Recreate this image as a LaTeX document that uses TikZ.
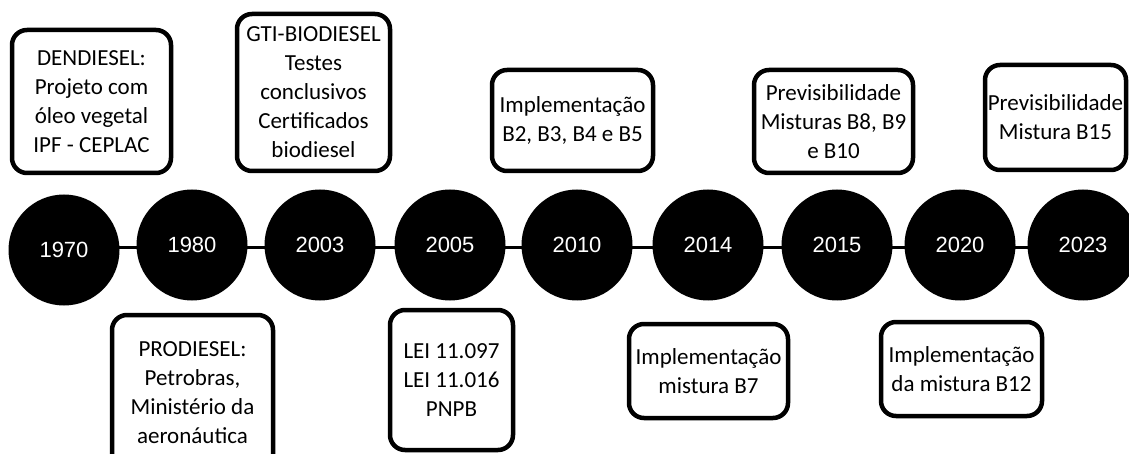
\documentclass[tikz,border=0pt]{standalone}
\usepackage{fontspec}
\setmainfont{Carlito}
\newfontfamily\anofont{Liberation Sans}
\usetikzlibrary{backgrounds}

\begin{document}
\begin{tikzpicture}[x=1pt, y=-1pt,
            ano/.style = {circle, fill=black, minimum size=111pt, inner sep=0pt,
                          text=white, font=\anofont\fontsize{22}{26}\selectfont},
            evento/.style = {draw, line width=4.5pt, rounded corners=15pt, align=center,
                             inner sep=0pt, font=\fontsize{23}{29}\selectfont},
            ]
            \useasboundingbox (0,0) rectangle (1129,454);

            % anos
            \node[ano] (a1970) at (64,250)   {1970};
            \node[ano] (a1980) at (192,245)  {1980};
            \node[ano] (a2003) at (320,245)  {2003};
            \node[ano] (a2005) at (450,245)  {2005};
            \node[ano] (a2010) at (577,245)  {2010};
            \node[ano] (a2014) at (708,245)  {2014};
            \node[ano] (a2015) at (837,245)  {2015};
            \node[ano] (a2020) at (960,245)  {2020};
            \node[ano] (a2023) at (1083,245) {2023};

            \begin{scope}[on background layer]
            \coordinate (linha) at (0,248);
            \foreach \a/\b in {1970/1980, 1980/2003, 2003/2005, 2005/2010,
                               2010/2014, 2014/2015, 2015/2020, 2020/2023}
                \draw[line width=3pt] (a\a |- linha) -- (a\b |- linha);
            \end{scope}

            % eventos acima
            \node[evento, minimum width=159pt, minimum height=143pt] (dendiesel) at (91.5,101.5)
                {DENDIESEL:\\Projeto com\\óleo vegetal\\IPF - CEPLAC};
            \node[evento, minimum width=153pt, minimum height=157pt] (gti) at (313.5,92.5)
                {GTI-BIODIESEL\\Testes\\conclusivos\\Certificados\\biodiesel};
            \node[evento, minimum width=161pt, minimum height=101pt] (impB5) at (572.5,120.5)
                {Implementação\\B2, B3, B4 e B5};
            \node[evento, minimum width=159pt, minimum height=103pt] (prevB10) at (833.5,121.5)
                {Previsibilidade\\Misturas B8, B9\\e B10};
            \node[evento, minimum width=141pt, minimum height=105pt] (prevB15) at (1055.5,117.5)
                {Previsibilidade\\Mistura B15};

            % eventos abaixo
            \node[evento, minimum width=161pt, minimum height=156pt] (prodiesel) at (192.5,393)
                {PRODIESEL:\\Petrobras,\\Ministério da\\aeronáutica};
            \node[evento, minimum width=123pt, minimum height=140pt] (lei) at (451.5,380)
                {LEI 11.097\\LEI 11.016\\PNPB};
            \node[evento, minimum width=159pt, minimum height=94pt] (impB7) at (708.5,371)
                {Implementação\\mistura B7};
            \node[evento, minimum width=161pt, minimum height=94pt] (impB12) at (961.5,369)
                {Implementação\\da mistura B12};
        \end{tikzpicture}
\end{document}
